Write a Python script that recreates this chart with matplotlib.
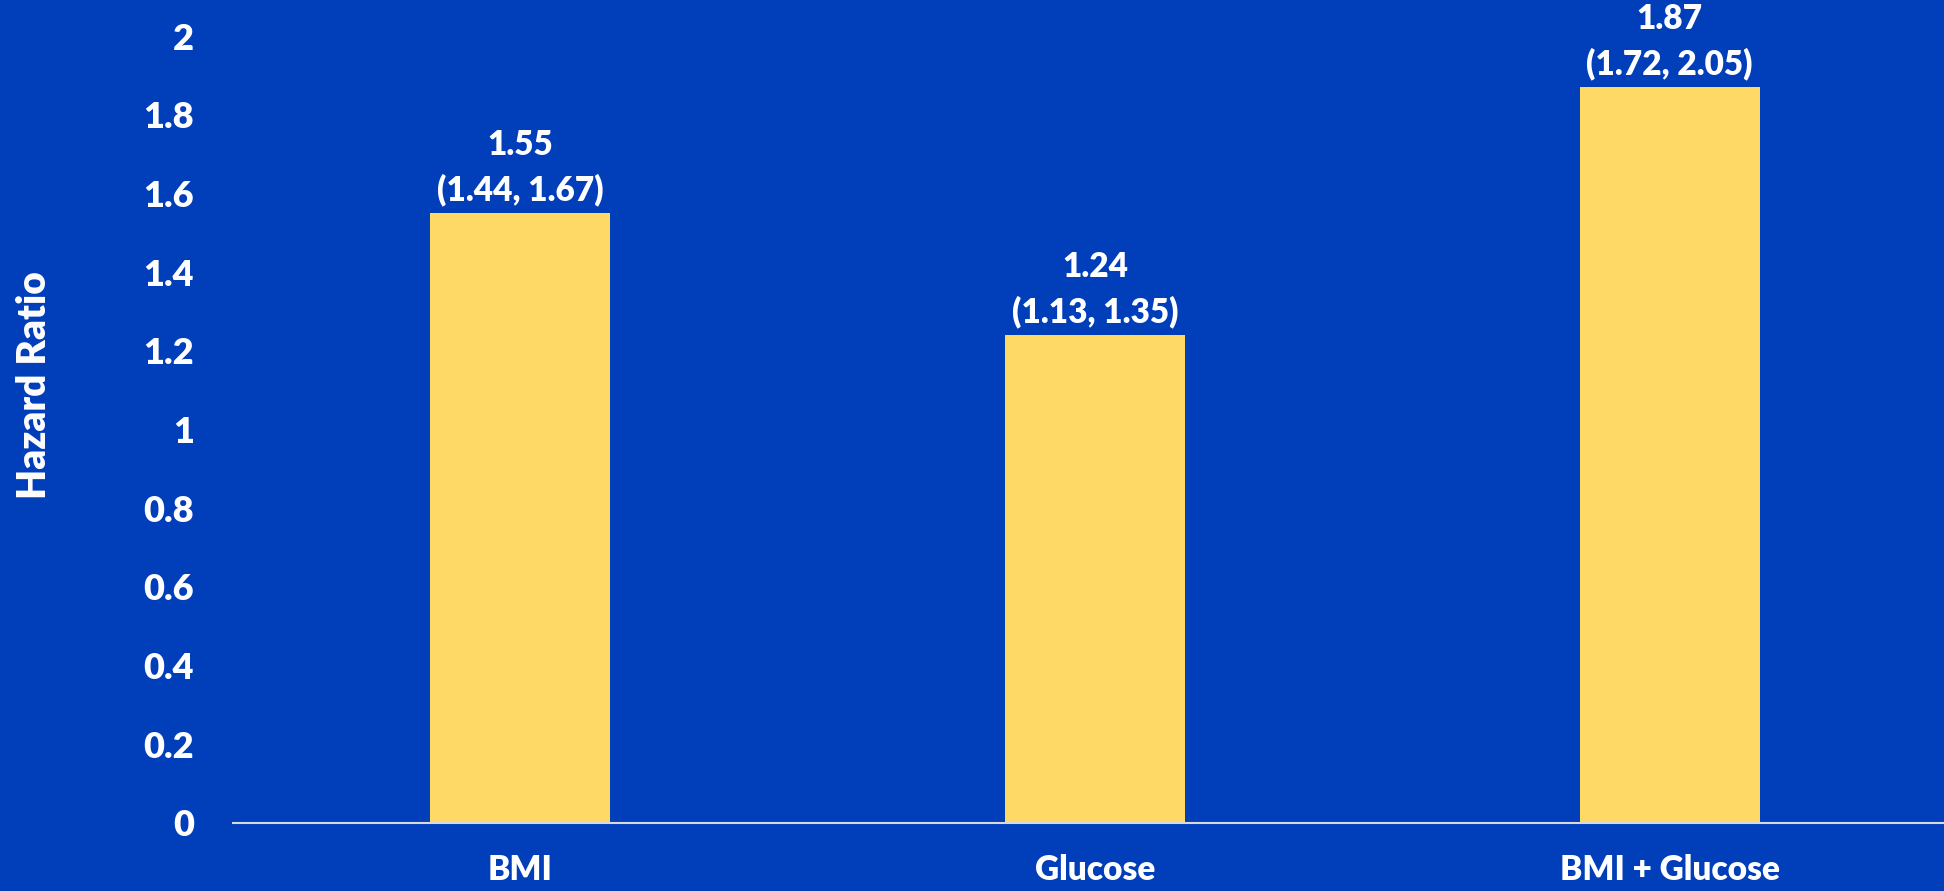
import matplotlib
matplotlib.use("Agg")
import matplotlib.pyplot as plt
import numpy as np

# Hazard ratios with 95% confidence intervals
categories = ["BMI", "Glucose", "BMI + Glucose"]
hazard_ratio = [1.55, 1.24, 1.87]
ci_low = [1.44, 1.13, 1.72]
ci_high = [1.67, 1.35, 2.05]
y_ticks = [0, 0.2, 0.4, 0.6, 0.8, 1, 1.2, 1.4, 1.6, 1.8, 2]

BG = "#003EBA"
BAR = "#FFD966"
AXIS = "#D9D9D9"
FONT = "Lato"
WEIGHT = "heavy"

plt.rcParams["font.family"] = [FONT, "DejaVu Sans"]

fig = plt.figure(figsize=(19.44, 8.91), dpi=100, facecolor=BG)
ax = fig.add_axes([233 / 1944, 68 / 891, 1724 / 1944, 787 / 891])
ax.set_facecolor(BG)

x = np.arange(len(categories))
ax.bar(x, hazard_ratio, width=0.313, color=BAR, zorder=2)

for xi, hr, lo, hi in zip(x, hazard_ratio, ci_low, ci_high):
    ax.annotate(f"{hr:.2f}\n({lo:.2f}, {hi:.2f})", xy=(xi, hr),
                xytext=(0, 5), textcoords="offset points",
                ha="center", va="bottom", color="white", fontsize=24,
                fontweight=WEIGHT, linespacing=1.45, annotation_clip=False)

ax.set_xlim(-0.5, 2.5)
ax.set_ylim(0, 2)
ax.set_xticks(x)
ax.set_xticklabels(categories)
ax.set_yticks(y_ticks)
ax.set_yticklabels([f"{t:g}" for t in y_ticks])
ax.tick_params(axis="y", length=0, colors="white", labelsize=26, pad=28)
ax.tick_params(axis="x", length=0, colors="white", labelsize=24, pad=22)
for lbl in ax.get_xticklabels() + ax.get_yticklabels():
    lbl.set_fontweight(WEIGHT)

for side in ("top", "right", "left"):
    ax.spines[side].set_visible(False)
ax.spines["bottom"].set_color(AXIS)
ax.spines["bottom"].set_linewidth(1.5)
ax.spines["bottom"].set_zorder(3)

fig.text(35 / 1944, 1 - 385 / 891, "Hazard Ratio", rotation=90,
         ha="center", va="center", color="white", fontsize=28,
         fontweight=WEIGHT)

fig.savefig("out.png", dpi=100, facecolor=BG)
